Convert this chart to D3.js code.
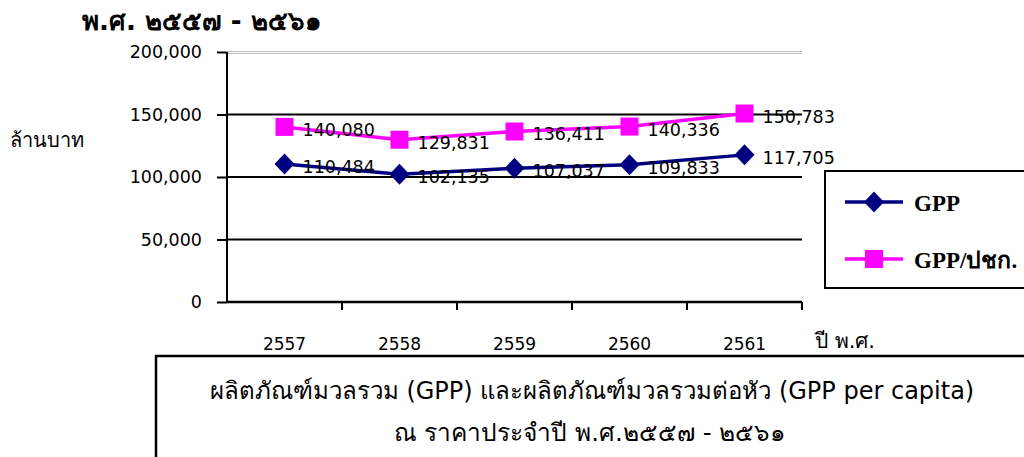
<!DOCTYPE html>
<html>
<head>
<meta charset="utf-8">
<script src="https://cdn.jsdelivr.net/npm/d3@7"></script>
<style>
  html, body { margin: 0; padding: 0; background: #fff; }
  svg { display: block; }
  text { font-family: "DejaVu Sans", "Noto Sans", sans-serif; fill: #000; }
</style>
</head>
<body>
<svg id="chart" width="1024" height="457"></svg>
<script>
const years = ["2557", "2558", "2559", "2560", "2561"];
const gpp = [110484, 102135, 107037, 109833, 117705];
const gppPerCapita = [140080, 129831, 136411, 140336, 150783];
const yTicks = [0, 50000, 100000, 150000, 200000];
const seriesNames = ["GPP", "GPP/ปชก."];
const titleText = "พ.ศ. ๒๕๕๗ - ๒๕๖๑";
const yUnitText = "ล้านบาท";
const xUnitText = "ปี พ.ศ.";
const captionLines = ["ผลิตภัณฑ์มวลรวม (GPP)  และผลิตภัณฑ์มวลรวมต่อหัว (GPP per capita)", "ณ ราคาประจำปี  พ.ศ.๒๕๕๗ - ๒๕๖๑"];

const svg = d3.select("#chart");
const plotLeft = 227, plotRight = 802, plotTop = 52, plotBottom = 302;

const x = d3.scaleBand().domain(years).range([plotLeft, plotRight]);
const y = d3.scaleLinear().domain([0, 200000]).range([plotBottom, plotTop]);
const fmt = d3.format(",");

// top border of plot area (gray double line)
svg.append("line").attr("x1", plotLeft).attr("x2", plotRight).attr("y1", plotTop - 0.5).attr("y2", plotTop - 0.5)
  .attr("stroke", "#bdbdbd").attr("stroke-width", 1);
svg.append("line").attr("x1", plotLeft).attr("x2", plotRight).attr("y1", plotTop + 1.5).attr("y2", plotTop + 1.5)
  .attr("stroke", "#bdbdbd").attr("stroke-width", 1);

// gridlines
svg.append("g").selectAll("line").data(yTicks.filter(d => d > 0 && d < 200000)).join("line")
  .attr("x1", plotLeft).attr("x2", plotRight)
  .attr("y1", d => y(d)).attr("y2", d => y(d))
  .attr("stroke", "#000").attr("stroke-width", 2);

// y axis
const yAxis = svg.append("g").attr("transform", `translate(${plotLeft},0)`)
  .call(d3.axisLeft(y).tickValues(yTicks).tickFormat(fmt).tickSize(10).tickPadding(15));
yAxis.select(".domain").attr("stroke", "#000").attr("stroke-width", 2).attr("d", `M0,${plotTop}V${plotBottom}`);
yAxis.selectAll(".tick line").attr("stroke", "#000").attr("stroke-width", 2);
yAxis.selectAll(".tick text").attr("font-size", 17.5).attr("font-family", "DejaVu Sans");

// x axis
const xAxis = svg.append("g").attr("transform", `translate(0,${plotBottom})`)
  .call(d3.axisBottom(x).tickSize(0).tickPadding(36));
xAxis.select(".domain").attr("stroke", "#000").attr("stroke-width", 2.5).attr("d", `M${plotLeft},0H${plotRight}`);
xAxis.selectAll(".tick text").attr("font-size", 17).attr("font-family", "DejaVu Sans");
const bounds = years.map(d => x(d)).concat([plotRight]).slice(1);
xAxis.append("g").selectAll("line").data(bounds).join("line")
  .attr("x1", d => d).attr("x2", d => d).attr("y1", 0).attr("y2", 8)
  .attr("stroke", "#000").attr("stroke-width", 2);

const cx = d => x(d) + x.bandwidth() / 2;

const series = [
  { name: seriesNames[0], values: gpp, color: "#000080", marker: "diamond" },
  { name: seriesNames[1], values: gppPerCapita, color: "#ff00ff", marker: "square" }
];

const line = d3.line().x((d, i) => cx(years[i])).y(d => y(d));

function drawMarker(g, type, color) {
  if (type === "diamond") {
    g.append("path").attr("d", "M0,-10.5L10,0L0,10.5L-10,0Z").attr("fill", color);
  } else {
    g.append("rect").attr("x", -9).attr("y", -9).attr("width", 18).attr("height", 18).attr("fill", color);
  }
}

series.forEach(s => {
  svg.append("path").datum(s.values).attr("d", line)
    .attr("fill", "none").attr("stroke", s.color).attr("stroke-width", 3.5);
  s.values.forEach((v, i) => {
    const g = svg.append("g").attr("transform", `translate(${cx(years[i])},${y(v)})`);
    drawMarker(g, s.marker, s.color);
  });
});
series.forEach(s => {
  s.values.forEach((v, i) => {
    svg.append("text").attr("x", cx(years[i]) + 18).attr("y", y(v) + 9)
      .attr("font-size", 17.5).text(fmt(v));
  });
});

svg.append("text").attr("x", 82).attr("y", 30).attr("font-size", 26).attr("font-weight", "bold").text(titleText);
svg.append("text").attr("x", 10).attr("y", 147).attr("font-size", 20).text(yUnitText);
svg.append("text").attr("x", 815).attr("y", 348).attr("font-size", 21).text(xUnitText);

svg.append("rect").attr("x", 825).attr("y", 171).attr("width", 210).attr("height", 117)
  .attr("fill", "#fff").attr("stroke", "#000").attr("stroke-width", 2);
const legendY = [202, 259];
series.forEach((s, i) => {
  const g = svg.append("g").attr("transform", `translate(0,${legendY[i]})`);
  g.append("line").attr("x1", 845).attr("x2", 903).attr("y1", 0).attr("y2", 0)
    .attr("stroke", s.color).attr("stroke-width", 3.5);
  const m = g.append("g").attr("transform", "translate(874,0)");
  drawMarker(m, s.marker, s.color);
  g.append("text").attr("x", 914).attr("y", 9).attr("font-size", 23).attr("font-weight", "bold")
    .style("font-family", "'Liberation Serif', 'Times New Roman', serif").text(s.name);
});

svg.append("rect").attr("x", 156).attr("y", 356).attr("width", 900).attr("height", 120)
  .attr("fill", "#fff").attr("stroke", "#000").attr("stroke-width", 2.5);
svg.append("text").attr("x", 592).attr("y", 399).attr("text-anchor", "middle").attr("font-size", 24).text(captionLines[0]);
svg.append("text").attr("x", 590).attr("y", 441).attr("text-anchor", "middle").attr("font-size", 24.5).text(captionLines[1]);
</script>
</body>
</html>
